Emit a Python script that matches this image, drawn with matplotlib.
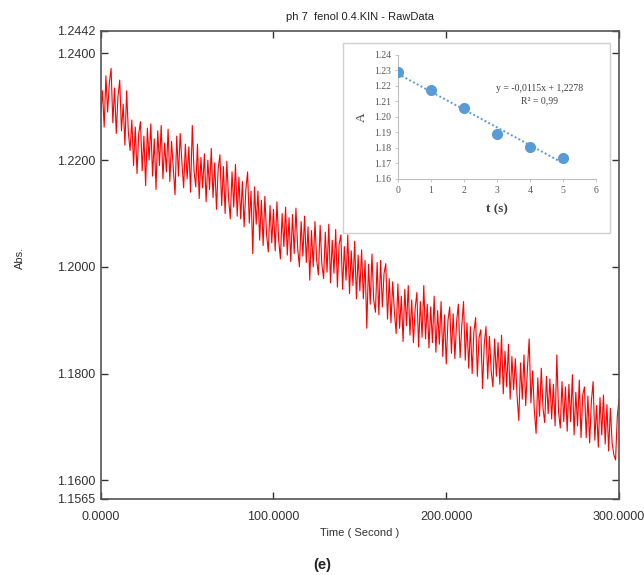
import matplotlib
matplotlib.use("Agg")
import matplotlib.pyplot as plt
from matplotlib.patches import Rectangle

# ---------------- data ----------------
time_s = list(range(0, 301))
absorbance = [
    1.2285, 1.2330, 1.2262, 1.2358, 1.2290, 1.2345, 1.2372, 1.2270, 1.2335, 1.2250,
    1.2320, 1.2350, 1.2255, 1.2305, 1.2228, 1.2330, 1.2252, 1.2218, 1.2275, 1.2190,
    1.2262, 1.2175, 1.2250, 1.2272, 1.2180, 1.2245, 1.2152, 1.2260, 1.2200, 1.2268,
    1.2170, 1.2240, 1.2145, 1.2255, 1.2190, 1.2265, 1.2165, 1.2232, 1.2178, 1.2258,
    1.2160, 1.2235, 1.2185, 1.2135, 1.2245, 1.2170, 1.2250, 1.2195, 1.2148, 1.2230,
    1.2165, 1.2225, 1.2140, 1.2265, 1.2180, 1.2150, 1.2230, 1.2128, 1.2205, 1.2148,
    1.2212, 1.2122, 1.2200, 1.2145, 1.2222, 1.2130, 1.2195, 1.2108, 1.2185, 1.2210,
    1.2115, 1.2188, 1.2100, 1.2198, 1.2128, 1.2090, 1.2178, 1.2112, 1.2192, 1.2095,
    1.2168, 1.2090, 1.2160, 1.2075, 1.2145, 1.2178, 1.2082, 1.2142, 1.2025, 1.2150,
    1.2080, 1.2142, 1.2050, 1.2125, 1.2040, 1.2132, 1.2060, 1.2028, 1.2115, 1.2045,
    1.2108, 1.2030, 1.2122, 1.2050, 1.2015, 1.2100, 1.2038, 1.2112, 1.2022, 1.2092,
    1.2010, 1.2098, 1.2025, 1.2110, 1.2035, 1.2000, 1.2085, 1.2020, 1.2095, 1.2008,
    1.2075, 1.1975, 1.2068, 1.2000, 1.2085, 1.2012, 1.1985, 1.2078, 1.2005, 1.1978,
    1.2065, 1.1990, 1.2080, 1.1970, 1.2050, 1.1988, 1.2070, 1.1962, 1.2042, 1.2060,
    1.1958, 1.2038, 1.1975, 1.2060, 1.1950, 1.2030, 1.1965, 1.2048, 1.1940, 1.2022,
    1.1955, 1.2032, 1.1940, 1.2012, 1.1885, 1.2005, 1.1930, 1.2024, 1.1938, 1.1915,
    1.2008, 1.1910, 1.2012, 1.1925, 1.1988, 1.2006, 1.1902, 1.1978, 1.1895, 1.1972,
    1.1915, 1.1875, 1.1968, 1.1885, 1.1945, 1.1860, 1.1958, 1.1890, 1.1965, 1.1872,
    1.1938, 1.1858, 1.1922, 1.1952, 1.1850, 1.1935, 1.1868, 1.1965, 1.1865, 1.1930,
    1.1848, 1.1925, 1.1858, 1.1945, 1.1840, 1.1918, 1.1855, 1.1935, 1.1832, 1.1910,
    1.1818, 1.1900, 1.1925, 1.1838, 1.1912, 1.1828, 1.1898, 1.1930, 1.1830, 1.1890,
    1.1935, 1.1825, 1.1895, 1.1810, 1.1888, 1.1800, 1.1878, 1.1905, 1.1795, 1.1868,
    1.1882, 1.1772, 1.1855, 1.1888, 1.1790, 1.1870, 1.1805, 1.1775, 1.1865, 1.1795,
    1.1858, 1.1780, 1.1872, 1.1762, 1.1842, 1.1775, 1.1855, 1.1752, 1.1832, 1.1770,
    1.1828, 1.1758, 1.1712, 1.1820, 1.1752, 1.1835, 1.1740, 1.1810, 1.1865, 1.1745,
    1.1805, 1.1730, 1.1688, 1.1792, 1.1720, 1.1810, 1.1735, 1.1708, 1.1795, 1.1725,
    1.1790, 1.1715, 1.1780, 1.1702, 1.1835, 1.1728, 1.1698, 1.1785, 1.1710, 1.1775,
    1.1692, 1.1780, 1.1710, 1.1798, 1.1685, 1.1765, 1.1702, 1.1788, 1.1680, 1.1760,
    1.1775, 1.1680, 1.1758, 1.1670, 1.1748, 1.1785, 1.1675, 1.1740, 1.1662, 1.1755,
    1.1685, 1.1760, 1.1668, 1.1742, 1.1655, 1.1735, 1.1670, 1.1648, 1.1638, 1.1720,
    1.1752,
]
x_ticks = [0, 100, 200, 300]
x_tick_labels = ["0.0000", "100.0000", "200.0000", "300.0000"]
y_ticks = [1.1565, 1.16, 1.18, 1.20, 1.22, 1.24, 1.2442]
y_tick_labels = ["1.1565", "1.1600", "1.1800", "1.2000", "1.2200", "1.2400", "1.2442"]

inset_t = [0, 1, 2, 3, 4, 5]
inset_A = [1.2290, 1.2175, 1.2060, 1.1890, 1.1805, 1.1735]
fit_slope = -0.0115
fit_intercept = 1.2278
inset_x_ticks = [0, 1, 2, 3, 4, 5, 6]
inset_y_ticks = [1.16, 1.17, 1.18, 1.19, 1.20, 1.21, 1.22, 1.23, 1.24]

# ---------------- figure ----------------
fig = plt.figure(figsize=(6.44, 5.75), dpi=100)
fig.patch.set_facecolor("white")
sans = ["Liberation Sans", "DejaVu Sans"]
serif = ["Liberation Serif", "DejaVu Serif"]

ax = fig.add_axes([0.1564, 0.1322, 0.8048, 0.8139])
ax.plot(time_s, absorbance, color="#ff0000", linewidth=0.8)
ax.set_xlim(0, 300)
ax.set_ylim(1.1565, 1.2442)
ax.set_xticks(x_ticks)
ax.set_xticklabels(x_tick_labels, family=sans, fontsize=9, color="#333333")
ax.set_yticks(y_ticks)
ax.set_yticklabels(y_tick_labels, family=sans, fontsize=9, color="#333333")
ax.tick_params(direction="in", top=True, right=True, length=5, width=1,
               color="#333333", pad=4)
ax.tick_params(axis="x", pad=9)
for s in ax.spines.values():
    s.set_color("#555555")
    s.set_linewidth(1.2)
ax.set_title("ph 7  fenol 0.4.KIN - RawData", family=sans, fontsize=8,
             color="#222222", pad=8)
ax.set_xlabel("Time ( Second )", family=sans, fontsize=8, color="#333333",
              labelpad=3)
fig.text(0.031, 0.551, "Abs.", rotation=90, family=sans, fontsize=8,
         color="#333333", ha="center", va="center")
fig.text(0.5, 0.017, "(e)", family=sans, fontsize=10.5, fontweight="bold",
         color="#222222", ha="center", va="center")

# inset frame
fig.patches.append(Rectangle((0.5326, 0.5948), 0.4146, 0.3304,
                             transform=fig.transFigure, facecolor="white",
                             edgecolor="#d0d0d0", linewidth=1.0, zorder=5))

iax = fig.add_axes([0.618, 0.6887, 0.3075, 0.2157], zorder=6)
iax.set_facecolor("none")
fit_x = [inset_t[0], inset_t[-1]]
fit_y = [fit_intercept + fit_slope * v for v in fit_x]
iax.plot(fit_x, fit_y, linestyle=(0, (1, 1.2)), color="#5b9bd5", linewidth=1.4)
iax.plot(inset_t, inset_A, "o", color="#5b9bd5", markersize=7, zorder=3)
iax.set_xlim(0, 6)
iax.set_ylim(1.16, 1.24)
iax.set_xticks(inset_x_ticks)
iax.set_xticklabels([str(v) for v in inset_x_ticks], family=serif, fontsize=7,
                    color="#595959")
iax.set_yticks(inset_y_ticks)
iax.set_yticklabels([f"{v:.2f}" for v in inset_y_ticks], family=serif,
                    fontsize=7, color="#595959")
iax.tick_params(length=2, width=0.6, color="#bfbfbf", pad=3)
for side in ("top", "right"):
    iax.spines[side].set_visible(False)
for side in ("left", "bottom"):
    iax.spines[side].set_color("#bfbfbf")
    iax.spines[side].set_linewidth(0.8)
iax.set_xlabel("t (s)", family=serif, fontsize=9.5, fontweight="bold",
               color="#404040", labelpad=6)
iax.set_ylabel("A", family=serif, fontsize=9.5,
               color="#404040", labelpad=4)
iax.text(4.3, 1.2181, "y = -0,0115x + 1,2278", family=serif, fontsize=7,
         color="#404040", ha="center", va="center")
iax.text(4.3, 1.2103, "R² = 0,99", family=serif, fontsize=7,
         color="#404040", ha="center", va="center")

fig.savefig("out.png", dpi=100, facecolor="white")
